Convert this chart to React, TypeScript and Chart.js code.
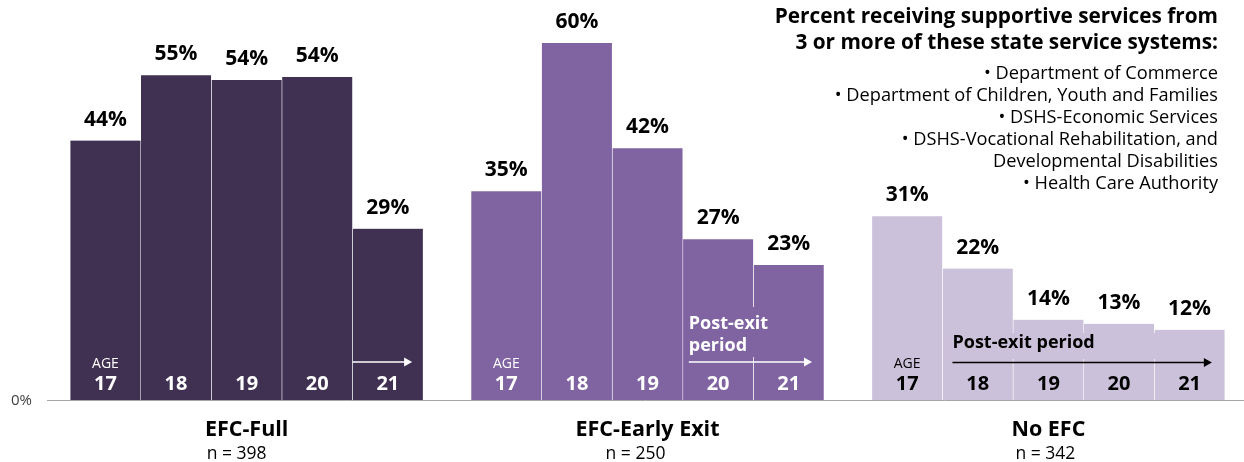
import React, { useEffect, useRef } from 'react';
import { Chart, registerables } from 'chart.js';

Chart.register(...registerables);

// ---- data ----
const groups = ['EFC-Full', 'EFC-Early Exit', 'No EFC'];
const groupN = ['n = 398', 'n = 250', 'n = 342'];
const ages = ['17', '18', '19', '20', '21'];
const efcFull = [43.6, 54.6, 53.8, 54.3, 28.8];
const efcEarlyExit = [35.1, 60.0, 42.3, 27.0, 22.7];
const noEfc = [30.9, 22.1, 13.5, 12.8, 11.8];
const titleLines = [
  'Percent receiving supportive services from',
  '3 or more of these state service systems:',
];
const systemLines = [
  '\u2022 Department of Commerce',
  '\u2022 Department of Children, Youth and Families',
  '\u2022 DSHS-Economic Services',
  '\u2022 DSHS-Vocational Rehabilitation, and',
  'Developmental Disabilities',
  '\u2022 Health Care Authority',
];
const postExitLabel = 'Post-exit period';
const zeroLabel = '0%';
const ageWord = 'AGE';

const groupColors = ['#403152', '#8064A2', '#CCC1DA'];
const FONT = '"Open Sans", "Noto Sans", sans-serif';
const nLabelShift = [-10, -12, -3];

const seriesByGroup = [efcFull, efcEarlyExit, noEfc];

const annotate = {
  id: 'annotate',
  afterDatasetsDraw(chart: any) {
    const ctx = chart.ctx as CanvasRenderingContext2D;
    const area = chart.chartArea;
    const xs = chart.scales.x;
    const bar = (age: number, g: number) => chart.getDatasetMeta(age).data[g];
    ctx.save();

    // baseline
    ctx.strokeStyle = '#A6A6A6';
    ctx.lineWidth = 1;
    ctx.beginPath();
    ctx.moveTo(area.left, area.bottom + 0.5);
    ctx.lineTo(area.right, area.bottom + 0.5);
    ctx.stroke();

    // 0% label
    ctx.fillStyle = '#404040';
    ctx.font = `15px ${FONT}`;
    ctx.textAlign = 'right';
    ctx.textBaseline = 'middle';
    ctx.fillText(zeroLabel, 32, area.bottom + 1);

    const arrow = (x1: number, x2: number, y: number, color: string) => {
      ctx.strokeStyle = color;
      ctx.fillStyle = color;
      ctx.lineWidth = 1.5;
      ctx.beginPath();
      ctx.moveTo(x1, y);
      ctx.lineTo(x2 - 6, y);
      ctx.stroke();
      ctx.beginPath();
      ctx.moveTo(x2, y);
      ctx.lineTo(x2 - 8, y - 4.5);
      ctx.lineTo(x2 - 8, y + 4.5);
      ctx.closePath();
      ctx.fill();
    };

    // group 1: arrow over age 21
    {
      const b = bar(4, 0);
      arrow(b.x - b.width / 2, b.x + b.width / 2 - 11, 362, '#FFFFFF');
    }
    // group 2: Post-exit / period over ages 20-21
    {
      const b20 = bar(3, 1);
      const b21 = bar(4, 1);
      const l = b20.x - b20.width / 2;
      const r = b21.x + b21.width / 2;
      ctx.fillStyle = groupColors[1];
      ctx.fillRect(l + 3, 307, r - l - 12, 50);
      ctx.fillStyle = '#FFFFFF';
      ctx.font = `bold 18px ${FONT}`;
      ctx.textAlign = 'left';
      ctx.textBaseline = 'alphabetic';
      const words = postExitLabel.split(' ');
      ctx.fillText(words[0], l + 6, 329);
      ctx.fillText(words[1], l + 6, 351);
      arrow(l + 6, r - 12, 362, '#FFFFFF');
    }
    // group 3: Post-exit period over ages 18-21
    {
      const b18 = bar(1, 2);
      const b21 = bar(4, 2);
      const l = b18.x - b18.width / 2;
      const r = b21.x + b21.width / 2;
      ctx.fillStyle = groupColors[2];
      ctx.fillRect(l + 6, 333, r - l - 20, 26);
      ctx.fillStyle = '#000000';
      ctx.font = `bold 18px ${FONT}`;
      ctx.textAlign = 'left';
      ctx.textBaseline = 'alphabetic';
      ctx.fillText(postExitLabel, l + 10, 348);
      arrow(l + 10, r - 13, 362.5, '#000000');
    }

    // value labels and age labels
    ctx.textAlign = 'center';
    ctx.textBaseline = 'alphabetic';
    for (let a = 0; a < ages.length; a++) {
      for (let g = 0; g < groups.length; g++) {
        const b = bar(a, g);
        const v = seriesByGroup[g][a];
        ctx.fillStyle = '#000000';
        ctx.font = `bold 21px ${FONT}`;
        ctx.fillText(`${Math.round(v)}%`, b.x, b.y - 15);
        const inkColor = g === 2 ? '#000000' : '#FFFFFF';
        ctx.fillStyle = inkColor;
        ctx.font = `bold 20px ${FONT}`;
        ctx.fillText(ages[a], b.x, 390);
        if (a === 0) {
          ctx.font = `14px ${FONT}`;
          ctx.fillText(ageWord, b.x, 368);
        }
      }
    }

    // group labels
    for (let g = 0; g < groups.length; g++) {
      const cx = xs.getPixelForValue(g);
      ctx.fillStyle = '#000000';
      ctx.font = `bold 21.5px ${FONT}`;
      ctx.fillText(groups[g], cx, 436);
      ctx.font = `17.5px ${FONT}`;
      ctx.fillText(groupN[g], cx + nLabelShift[g], 459);
    }

    // title & systems list
    ctx.textAlign = 'right';
    ctx.fillStyle = '#000000';
    ctx.font = `bold 20.8px ${FONT}`;
    ctx.fillText(titleLines[0], 1218, 23);
    ctx.fillText(titleLines[1], 1218, 49);
    ctx.font = `18.2px ${FONT}`;
    systemLines.forEach((s, i) => ctx.fillText(s, 1218, 79 + i * 22));

    ctx.restore();
  },
};

export default function App() {
  const ref = useRef<HTMLCanvasElement | null>(null);
  useEffect(() => {
    if (!ref.current) return;
    const chart = new Chart(ref.current, {
      type: 'bar',
      data: {
        datasets: ages.map((age, i) => ({
          label: `Age ${age}`,
          data: seriesByGroup.map((s, g) => ({ x: g, y: s[i] })),
          backgroundColor: groupColors,
          borderColor: '#FFFFFF',
          borderWidth: { left: 0.6, right: 0.6, top: 0, bottom: 0 },
          borderSkipped: false,
          barThickness: 70.6,
        })),
      },
      options: {
        responsive: false,
        animation: false,
        layout: { padding: { left: 47, right: 0, top: 43, bottom: 62 } },
        plugins: { legend: { display: false }, tooltip: { enabled: false } },
        scales: {
          x: { type: 'linear', display: false, offset: false, min: -0.498, max: 2.488 },
          y: { display: false, min: 0, max: 60 },
        },
      },
      plugins: [annotate],
    });
    return () => chart.destroy();
  }, []);
  return (
    <div style={{ position: 'fixed', left: 0, top: 0, width: 1244, height: 462, background: '#fff' }}>
      <canvas ref={ref} width={1244} height={462} style={{ display: 'block' }} />
    </div>
  );
}
